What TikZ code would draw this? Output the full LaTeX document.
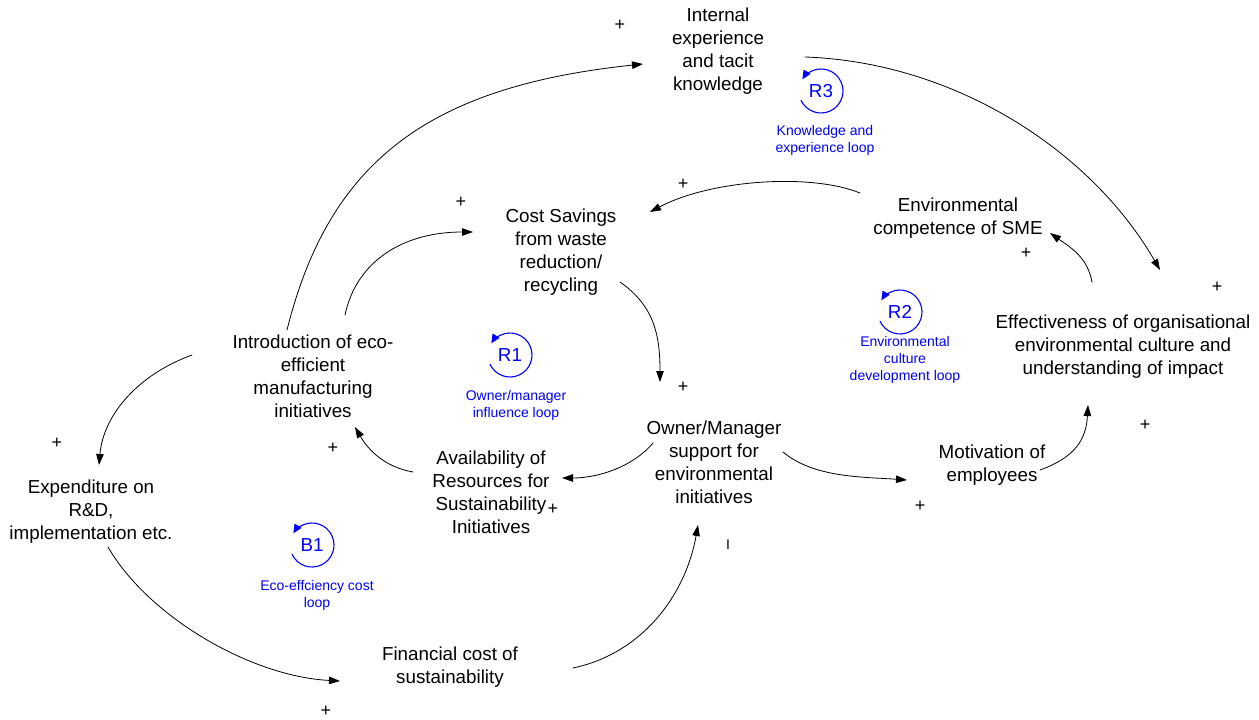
\documentclass[tikz,border=0pt]{standalone}
\usepackage{fontspec}
\setmainfont{Liberation Sans}
\usetikzlibrary{arrows.meta,calc}
\tikzset{
  var/.style={align=center, inner sep=0pt, font=\fontsize{18.8}{23}\selectfont},
  sign/.style={inner sep=0pt, font=\fontsize{18}{20}\selectfont},
  loopname/.style={blue, inner sep=0pt, font=\fontsize{18.8}{23}\selectfont},
  looptext/.style={blue, align=center, inner sep=0pt, font=\fontsize{14}{17}\selectfont},
  link/.style={-{Triangle[length=11pt,width=7.5pt]}, line width=0.8pt},
  loopmark/.style={blue, line width=1.1pt, -{Triangle[length=9pt,width=8pt]}}
}
\begin{document}
\begin{tikzpicture}[x=1pt, y=1pt, line join=round, line cap=round]
\useasboundingbox (0,0) rectangle (1259,-720);
% variables
\node[var] (know) at (718,-51.5) {Internal\\experience\\and tacit\\knowledge};
\node[var] (cost) at (561,-252.5) {Cost Savings\\from waste\\reduction/\\recycling};
\node[var] (comp) at (958,-218) {Environmental\\competence of SME};
\node[var] (eff) at (1123,-347) {Effectiveness of organisational\\environmental culture and\\understanding of impact};
\node[var] (intro) at (313,-376) {Introduction of eco-\\efficient\\manufacturing\\initiatives};
\node[var] (avail) at (491,-492) {Availability of\\Resources for\\Sustainability\\Initiatives};
\node[var] (owner) at (714,-462) {Owner/Manager\\support for\\environmental\\initiatives};
\node[var] (motiv) at (992,-465) {Motivation of\\employees};
\node[var] (exp) at (91,-512) {Expenditure on\\R\&D,\\implementation etc.};
\node[var] (fin) at (450,-667) {Financial cost of\\sustainability};
% polarity signs
\foreach \x/\y [count=\i] in {620/25, 461/202, 683/184, 1026/253, 1217/287, 683/387,
  333/448, 553/509, 57/443, 920/506, 1145/425, 326/711}{
  \node[sign] (s\i) at (\x,-\y) {+};
}
\node[sign, font=\fontsize{14}{16}\selectfont] (s13) at (728,-545) {I};
% loops
\foreach \n/\x/\y in {R3/821/91, R1/510/355, R2/900/312, B1/312/545}{
  \node[loopname] (\n) at (\x,-\y) {\n};
  \draw[loopmark] (\n.center) ++(205:22) arc (205:508:22);
}
\node[looptext] (R3text) at (825,-140) {Knowledge and\\experience loop};
\node[looptext] (R1text) at (516,-405.5) {Owner/manager\\influence loop};
\node[looptext] (R2text) at (905,-360) {Environmental\\culture\\development loop};
\node[looptext] (B1text) at (317,-595) {Eco-effciency cost\\loop};
% links
\draw[link] ($(intro)+(-26,46)$) ..controls +(76:175) and +(186:214).. ($(know)+(-75,-12.5)$);
\draw[link] ($(intro)+(32,61)$) ..controls +(78:55) and +(180:70).. ($(cost)+(-88,20.5)$);
\draw[link] ($(comp)+(-98,25)$) ..controls +(158:54) and +(28:68).. ($(cost)+(89,40.5)$);
\draw[link] ($(cost)+(59,-29.5)$) ..controls +(-35:43) and +(90:45).. ($(owner)+(-54,80)$);
\draw[link] ($(know)+(87,-5.5)$) ..controls +(-2:150) and +(120:138).. ($(eff)+(37,77)$);
\draw[link] ($(eff)+(-31,65)$) ..controls +(100:25) and +(-35:25).. ($(comp)+(92,-15)$);
\draw[link] ($(owner)+(-61,19)$) ..controls +(230:32) and +(0:35).. ($(avail)+(71,14)$);
\draw[link] ($(avail)+(-78,20)$) ..controls +(170:30) and +(-60:25).. ($(intro)+(42,-51)$);
\draw[link] ($(intro)+(-121,21)$) ..controls +(200:58) and +(85:50).. ($(exp)+(8,47)$);
\draw[link] ($(exp)+(17,-35)$) ..controls +(-60:80) and +(177:90).. ($(fin)+(-110,-14)$);
\draw[link] ($(fin)+(123,-1)$) ..controls +(12:72) and +(-100:70).. ($(owner)+(-16,-63)$);
\draw[link] ($(owner)+(69,10)$) ..controls +(-40:40) and +(176:45).. ($(motiv)+(-85,-15)$);
\draw[link] ($(motiv)+(48,-5)$) ..controls +(20:37) and +(-93:35).. ($(eff)+(-35,-58)$);
\end{tikzpicture}
\end{document}
